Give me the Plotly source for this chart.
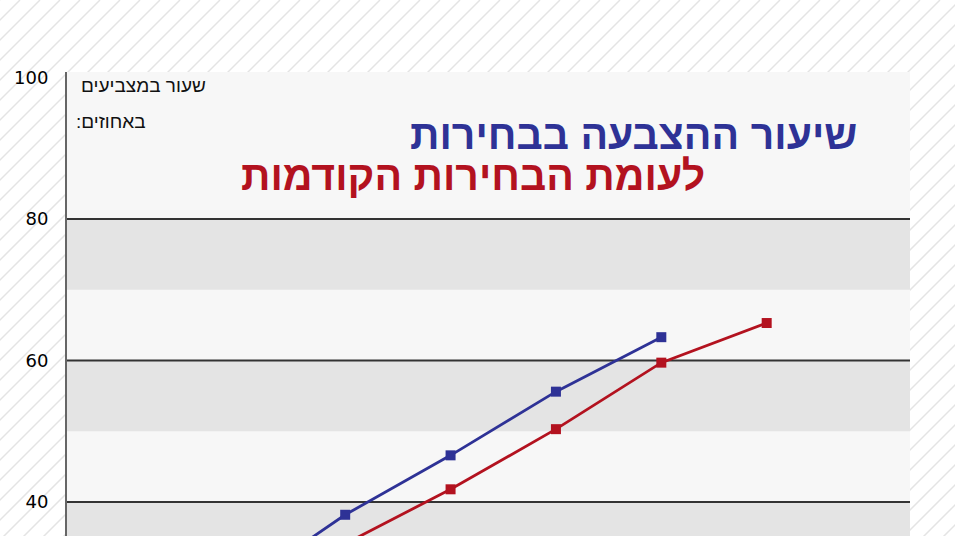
import plotly.graph_objects as go

# שעות דיווח ושיעורי הצבעה (באחוזים)
hours_now = [12, 14, 16, 18, 20]
turnout_now = [28.0, 38.2, 46.6, 55.6, 63.3]

hours_prev = [14, 16, 18, 20, 22]
turnout_prev = [34.1, 41.8, 50.3, 59.7, 65.3]

y_ticks = [40, 60, 80, 100]
grid_levels = [40, 60, 80]
band_ranges = [(30, 40), (50, 60), (70, 80)]

BLUE = "#2e3296"
RED = "#b3121f"

# geometry of the plot box (pixels)
W, H = 955, 536
L, R, T, B = 67, 45, 72, 0
pw, ph = W - L - R, H - T - B

fig = go.Figure()

fig.add_trace(go.Scatter(
    x=hours_now, y=turnout_now, mode="lines+markers",
    line=dict(color=BLUE, width=2.8),
    marker=dict(symbol="square", size=10, color=BLUE),
    showlegend=False, hoverinfo="skip"
))
fig.add_trace(go.Scatter(
    x=hours_prev, y=turnout_prev, mode="lines+markers",
    line=dict(color=RED, width=2.8),
    marker=dict(symbol="square", size=10, color=RED),
    showlegend=False, hoverinfo="skip"
))

shapes = []

# striped page background
for c in range(-560, 980, 20):
    shapes.append(dict(
        type="line", xref="paper", yref="paper", layer="below",
        x0=(c - L) / pw, y0=(H - 540 - B) / ph,
        x1=(c + 540 - L) / pw, y1=(H - B) / ph,
        line=dict(color="#e4e4e4", width=1.5)
    ))
# plot box background
shapes.append(dict(type="rect", xref="paper", yref="paper", layer="below",
                   x0=0, x1=1, y0=0, y1=1, fillcolor="#f7f7f7", line=dict(width=0)))
# grey bands
for y0, y1 in band_ranges:
    shapes.append(dict(type="rect", xref="paper", yref="y", layer="below",
                       x0=0, x1=1, y0=y0, y1=y1, fillcolor="#e4e4e4", line=dict(width=0)))
# grid lines
for g in grid_levels:
    shapes.append(dict(type="line", xref="paper", yref="y", layer="below",
                       x0=0, x1=1, y0=g, y1=g, line=dict(color="#333333", width=2)))

def px_x(v):
    return (v - L) / pw

def px_y(v):
    return (H - B - v) / ph

annotations = [
    dict(text="שיעור ההצבעה בבחירות", x=px_x(859), y=px_y(135), xanchor="right", yanchor="middle",
         font=dict(family="Liberation Sans", size=41, color=BLUE, weight="bold")),
    dict(text="לעומת הבחירות הקודמות", x=px_x(707), y=px_y(176), xanchor="right", yanchor="middle",
         font=dict(family="Liberation Sans", size=41, color=RED, weight="bold")),
    dict(text="שעור במצביעים", x=px_x(79), y=px_y(85), xanchor="left", yanchor="middle",
         font=dict(family="Liberation Sans", size=19, color="#111111")),
    dict(text="\u200fבאחוזים:\u200f", x=px_x(74), y=px_y(122), xanchor="left", yanchor="middle",
         font=dict(family="Liberation Sans", size=19, color="#111111")),
]
for a in annotations:
    a.update(xref="paper", yref="paper", showarrow=False)

fig.update_layout(
    width=W, height=H,
    margin=dict(l=L, r=R, t=T, b=B),
    paper_bgcolor="white",
    plot_bgcolor="rgba(0,0,0,0)",
    shapes=shapes,
    annotations=annotations,
    xaxis=dict(range=[8.72, 24.72], showgrid=False, zeroline=False,
               showticklabels=False, showline=False, fixedrange=True),
    yaxis=dict(range=[35.2, 100.78], tickvals=y_ticks, showgrid=False, zeroline=False,
               showline=True, linecolor="#666666", linewidth=2,
               ticks="", ticklabelstandoff=13,
               tickfont=dict(family="DejaVu Sans", size=18, color="#000000"),
               fixedrange=True),
)

fig.write_html("out.html", config={"displayModeBar": False},
               post_script="document.body.style.margin='0';")
